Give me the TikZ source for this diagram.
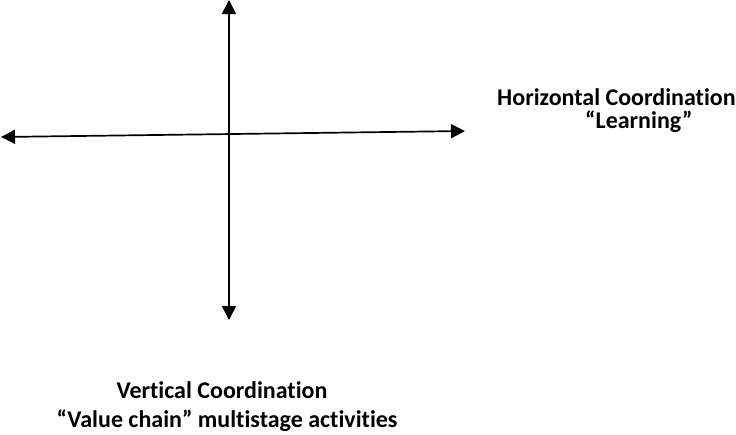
\documentclass[tikz,border=0pt]{standalone}
\usepackage{fontspec}
\setmainfont{Carlito}[Ligatures=CommonOff]
\usetikzlibrary{arrows.meta}

\begin{document}
\begin{tikzpicture}[x=1pt,y=-1pt,
  axis/.style={line width=1.7pt,{Triangle[length=14pt,width=14pt]}-{Triangle[length=14pt,width=14pt]}},
  lbl/.style={font=\bfseries\fontsize{24}{28}\selectfont,inner sep=0pt}]
  \useasboundingbox (0,0) rectangle (736,434);
  % axes
  \coordinate (west) at (1,137);
  \coordinate (east) at (465,131);
  \coordinate (north) at (229,0);
  \coordinate (south) at (229,320);
  \draw[axis] (west) -- (east);
  \draw[axis] (north) -- (south);
  % horizontal label
  \node[lbl,anchor=base west] (horiz) at (497,105) {Horizontal Coordination};
  \node[lbl,anchor=base west] (learn) at (585,128) {“Learning”};
  % vertical label
  \node[lbl,anchor=base] (vert) at (222,398) {Vertical Coordination};
  \node[lbl,anchor=base] (chain) at (227,427) {“Value chain” multistage activities};
\end{tikzpicture}
\end{document}
